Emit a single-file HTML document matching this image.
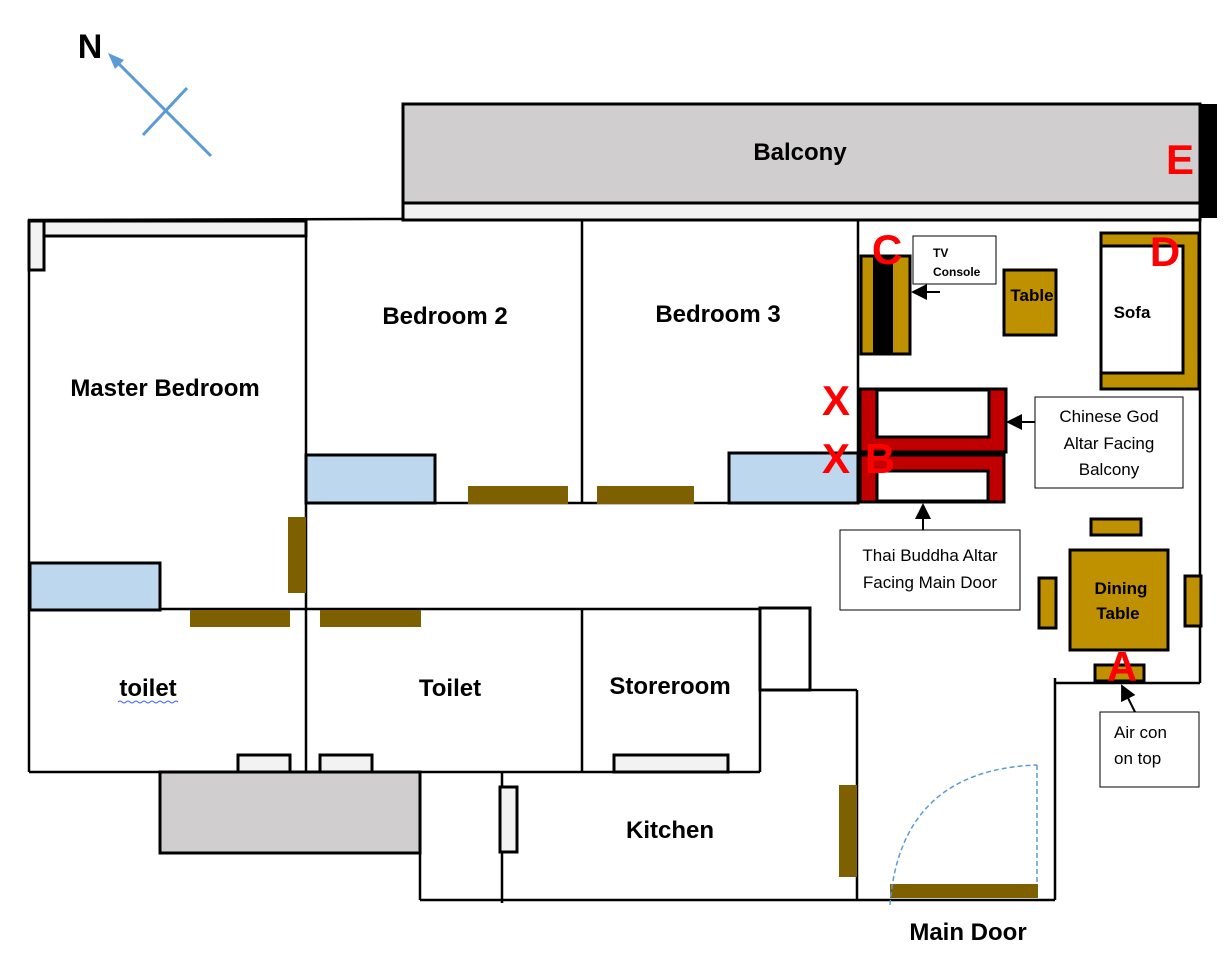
<!DOCTYPE html>
<html><head><meta charset="utf-8"><style>
body{margin:0;background:#fff}
svg{display:block}
.b{font-family:"Liberation Sans",sans-serif;font-weight:bold;fill:#000}
.n{font-family:"Liberation Sans",sans-serif;fill:#000}
.r{font-family:"Liberation Sans",sans-serif;font-weight:bold;fill:#f00;font-size:42px}
</style></head><body>
<svg width="1225" height="960" viewBox="0 0 1225 960" xmlns="http://www.w3.org/2000/svg">
<defs><marker id="ar" markerWidth="8" markerHeight="8" refX="7" refY="4" orient="auto"><path d="M0,0 L8,4 L0,8 z" fill="#000"/></marker></defs>
<text x="90" y="58" class="b" font-size="34" text-anchor="middle">N</text>
<line x1="211" y1="156" x2="116" y2="61" stroke="#5b9bd5" stroke-width="3"/>
<path d="M108,53 L124,60 L115,69 z" fill="#5b9bd5"/>
<line x1="187" y1="88" x2="143" y2="135" stroke="#5b9bd5" stroke-width="3"/>
<rect x="403" y="104" width="797" height="99" fill="#d0cece" stroke="#000" stroke-width="3"/>
<rect x="403" y="203" width="797" height="17" fill="#f2f2f2" stroke="#000" stroke-width="3"/>
<rect x="1200" y="104" width="17" height="114" fill="#000"/>
<text x="800" y="160" class="b" font-size="24" text-anchor="middle">Balcony</text>
<g stroke="#000" stroke-width="2.5" fill="none">
<line x1="28" y1="220" x2="403" y2="219"/>
<line x1="29" y1="220" x2="29" y2="772"/>
<line x1="306" y1="220" x2="306" y2="772"/>
<line x1="582" y1="220" x2="582" y2="503"/>
<line x1="582" y1="608" x2="582" y2="772"/>
<line x1="858" y1="220" x2="858" y2="503"/>
<line x1="306" y1="503" x2="858" y2="503"/>
<line x1="29" y1="609" x2="760" y2="609"/>
<line x1="1200" y1="218" x2="1200" y2="683"/>
<line x1="1055" y1="683" x2="1200" y2="683"/>
<line x1="1055" y1="678" x2="1055" y2="900"/>
<line x1="420" y1="900" x2="1055" y2="900"/>
<line x1="420" y1="772" x2="420" y2="900"/>
<line x1="502" y1="772" x2="502" y2="903"/>
<line x1="29" y1="772" x2="760" y2="772"/>
<line x1="760" y1="608" x2="760" y2="772"/>
<line x1="810" y1="690" x2="857" y2="690"/>
<line x1="857" y1="690" x2="857" y2="900"/>
</g>
<rect x="760" y="608" width="50" height="82" fill="none" stroke="#000" stroke-width="3"/>
<rect x="29" y="221" width="277" height="15" fill="#f2f2f2" stroke="#000" stroke-width="3"/>
<rect x="29" y="221" width="15" height="49" fill="#f2f2f2" stroke="#000" stroke-width="3"/>
<rect x="160" y="772" width="260" height="81" fill="#d0cece" stroke="#000" stroke-width="3"/>
<g fill="#f2f2f2" stroke="#000" stroke-width="3">
<rect x="238" y="755" width="52" height="17"/>
<rect x="320" y="755" width="52" height="17"/>
<rect x="614" y="755" width="114" height="17"/>
<rect x="500" y="787" width="17" height="65"/>
</g>
<g fill="#bdd7ee" stroke="#000" stroke-width="3">
<rect x="306" y="455" width="129" height="48"/>
<rect x="729" y="453" width="129" height="50"/>
<rect x="30" y="563" width="130" height="47"/>
</g>
<g fill="#7f6000">
<rect x="468" y="486" width="100" height="18"/>
<rect x="597" y="486" width="97" height="18"/>
<rect x="288" y="517" width="18" height="76"/>
<rect x="190" y="610" width="100" height="17"/>
<rect x="320" y="610" width="101" height="17"/>
<rect x="839" y="785" width="18" height="92"/>
<rect x="890" y="884" width="148" height="14"/>
</g>
<path d="M890,905 Q900,770 1037,765" fill="none" stroke="#5b9bd5" stroke-width="1.5" stroke-dasharray="5,3"/>
<line x1="1037" y1="765" x2="1037" y2="885" stroke="#5b9bd5" stroke-width="1.5" stroke-dasharray="5,3"/>
<rect x="861" y="256" width="49" height="98" fill="#bf9000" stroke="#000" stroke-width="3"/>
<rect x="873" y="256" width="20" height="98" fill="#000"/>
<rect x="913" y="236" width="83" height="48" fill="#fff" stroke="#000" stroke-width="1"/>
<text x="933" y="257" class="n" font-size="12" font-weight="bold">TV</text>
<text x="933" y="276" class="n" font-size="12" font-weight="bold">Console</text>
<line x1="940" y1="292" x2="913" y2="292" stroke="#000" stroke-width="2" marker-end="url(#ar)"/>
<rect x="1004" y="270" width="52" height="65" fill="#bf9000" stroke="#000" stroke-width="3"/>
<text x="1032" y="301" class="b" font-size="17" text-anchor="middle">Table</text>
<rect x="1101" y="233" width="98" height="156" fill="#bf9000" stroke="#000" stroke-width="3"/>
<rect x="1101" y="246" width="82" height="127" fill="#fff" stroke="#000" stroke-width="3"/>
<text x="1132" y="318" class="b" font-size="17" text-anchor="middle">Sofa</text>
<rect x="860" y="389" width="146" height="63" fill="#c00000" stroke="#000" stroke-width="3"/>
<rect x="877" y="390" width="112" height="47" fill="#fff" stroke="#000" stroke-width="3"/>
<rect x="860" y="455" width="144" height="47" fill="#c00000" stroke="#000" stroke-width="3"/>
<rect x="877" y="471" width="111" height="30" fill="#fff" stroke="#000" stroke-width="3"/>
<rect x="1035" y="397" width="148" height="91" fill="#fff" stroke="#000" stroke-width="1"/>
<text x="1109" y="422" class="n" font-size="17" text-anchor="middle">Chinese God</text>
<text x="1109" y="449" class="n" font-size="17" text-anchor="middle">Altar Facing</text>
<text x="1109" y="475" class="n" font-size="17" text-anchor="middle">Balcony</text>
<line x1="1035" y1="422" x2="1008" y2="422" stroke="#000" stroke-width="2" marker-end="url(#ar)"/>
<rect x="840" y="530" width="180" height="80" fill="#fff" stroke="#000" stroke-width="1"/>
<text x="930" y="561" class="n" font-size="17" text-anchor="middle">Thai Buddha Altar</text>
<text x="930" y="588" class="n" font-size="17" text-anchor="middle">Facing Main Door</text>
<line x1="923" y1="530" x2="923" y2="505" stroke="#000" stroke-width="2" marker-end="url(#ar)"/>
<g fill="#bf9000" stroke="#000" stroke-width="3">
<rect x="1091" y="519" width="50" height="16"/>
<rect x="1039" y="578" width="17" height="50"/>
<rect x="1185" y="576" width="16" height="50"/>
<rect x="1095" y="665" width="49" height="16"/>
<rect x="1070" y="550" width="98" height="100"/>
</g>
<text x="1121" y="594" class="b" font-size="17" text-anchor="middle">Dining</text>
<text x="1118" y="619" class="b" font-size="17" text-anchor="middle">Table</text>
<rect x="1100" y="712" width="99" height="75" fill="#fff" stroke="#000" stroke-width="1"/>
<text x="1114" y="738" class="n" font-size="17">Air con</text>
<text x="1114" y="764" class="n" font-size="17">on top</text>
<line x1="1135" y1="712" x2="1122" y2="686" stroke="#000" stroke-width="2" marker-end="url(#ar)"/>
<text x="887" y="264" class="r" text-anchor="middle">C</text>
<text x="1165" y="266" class="r" text-anchor="middle">D</text>
<text x="1180" y="174" class="r" text-anchor="middle">E</text>
<text x="836" y="415" class="r" text-anchor="middle">X</text>
<text x="836" y="473" class="r" text-anchor="middle">X</text>
<text x="880" y="473" class="r" text-anchor="middle">B</text>
<text x="1122" y="681" class="r" text-anchor="middle">A</text>
<g class="b" font-size="24" text-anchor="middle">
<text x="445" y="324">Bedroom 2</text>
<text x="718" y="322">Bedroom 3</text>
<text x="165" y="396">Master Bedroom</text>
<text x="148" y="696">toilet</text>
<text x="450" y="696">Toilet</text>
<text x="670" y="694">Storeroom</text>
<text x="670" y="838">Kitchen</text>
<text x="968" y="940">Main Door</text>
</g>
<path d="M118,702 q2,-2 4,0 t4,0 t4,0 t4,0 t4,0 t4,0 t4,0 t4,0 t4,0 t4,0 t4,0 t4,0 t4,0 t4,0 t4,0" fill="none" stroke="#4060ff" stroke-width="1"/>
</svg>
</body></html>
